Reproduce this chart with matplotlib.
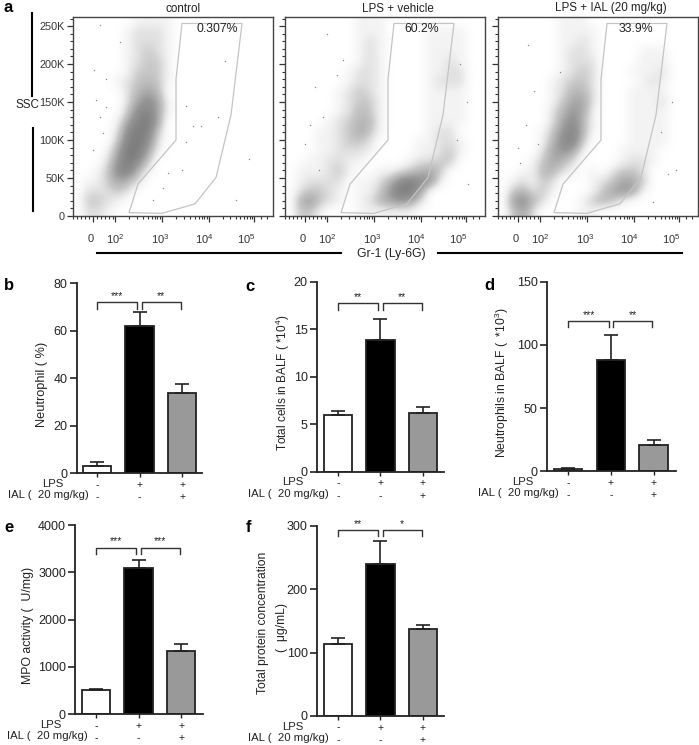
import numpy as np
import matplotlib
matplotlib.use('Agg')
import matplotlib.pyplot as plt
from matplotlib.colors import LinearSegmentedColormap
from matplotlib.patches import Polygon

W, H = 699, 745
plt.rcParams['font.family'] = ['Liberation Sans', 'DejaVu Sans']
plt.rcParams['mathtext.fontset'] = 'custom'
plt.rcParams['mathtext.rm'] = 'Liberation Sans'
plt.rcParams['mathtext.default'] = 'rm'

# flow plots: density, 20 x 20 cells, 0 = empty, 9 = densest
control_density = [
    "00000011110000000000",
    "00000122210000000000",
    "00000122210000000000",
    "00000123210000000000",
    "00000123310000000000",
    "00000133310000000000",
    "00001234310000000000",
    "00000245400000000000",
    "00000257510000000000",
    "00000378510000000000",
    "00001589500000000000",
    "00002798300000000000",
    "00003897200000000000",
    "00015995100000000000",
    "00026973000000000000",
    "00137841000000000000",
    "01135420000000000000",
    "02223200000000000000",
    "03321000000000000000",
    "02210000000000000000",
]
vehicle_density = [
    "00000001110000000000",
    "00000001110000111100",
    "00000001210000111100",
    "00000001210000111100",
    "00000001210000112100",
    "00000012210000112200",
    "00000012210000122200",
    "00000123210000111100",
    "00000123310000111100",
    "00000124310000111100",
    "00001234410000111100",
    "00011235310000122000",
    "00011233200001122100",
    "00011222100001123100",
    "00112211000012233000",
    "01112310011234530000",
    "01222201124787610000",
    "02332101136995000000",
    "04632101245652000000",
    "03310001111110000000",
]
ial_density = [
    "00000011100000000000",
    "00000011110000000000",
    "00000011210000000000",
    "00000012210000111000",
    "00000012220000111000",
    "00000012320001112000",
    "00000123320000121000",
    "00000124420001111000",
    "00000135520001112000",
    "00000246510001111000",
    "00000257410001111000",
    "00001368410001111000",
    "00001478300001111000",
    "00002565100011110000",
    "00013542000012210000",
    "00114421010233200000",
    "01213200012355300000",
    "03423100013565100000",
    "05742000134310000000",
    "03520000110000000000",
]
# stray events outside the clouds (channel, SSC in K)
control_stray_x = [27, 21, 47, 33, 152, 113, 120, 176, 163, 109, 95, 80, 90, 113, 128, 145, 23, 27, 30, 20, 33]
control_stray_y = [252, 192, 229, 180, 204, 145, 118, 75, 21, 61, 57, 21, 37, 98, 118, 131, 153, 131, 109, 87, 144]
vehicle_stray_x = [42, 30, 58, 25, 182, 183, 172, 38, 20, 34, 52, 175]
vehicle_stray_y = [240, 170, 205, 120, 150, 42, 100, 130, 95, 60, 185, 200]
ial_stray_x = [30, 36, 62, 28, 20, 174, 178, 155, 170, 163, 40, 22]
ial_stray_y = [225, 165, 190, 120, 90, 150, 60, 18, 55, 110, 95, 70]

flow_titles = ['control', 'LPS + vehicle', 'LPS + IAL (20 mg/kg)']
flow_percent = ['0.307%', '60.2%', '33.9%']
gate_x = [109, 169, 158, 143, 122, 89, 56, 65, 103, 103]
gate_y = [253.5, 253.5, 133, 50.6, 16, 3.5, 4.4, 42, 100, 180]
ssc_ticks = [0, 50, 100, 150, 200, 250]
ssc_labels = ['0', '50K', '100K', '150K', '200K', '250K']
gr1_ticks = [20, 42, 89, 136, 181]
gr1_label_pos = [17.5, 42, 87, 131, 173]
gr1_labels = ['0', '10$^{2}$', '10$^{3}$', '10$^{4}$', '10$^{5}$']

# bar panels
neutrophil_pct = [3, 62, 34]
neutrophil_pct_top = [4.7, 68, 37.7]
total_cells = [6, 13.9, 6.2]
total_cells_top = [6.4, 16.1, 6.8]
neutrophil_count = [2, 88, 21]
neutrophil_count_top = [3, 108, 24.5]
mpo = [510, 3100, 1340]
mpo_top = [540, 3270, 1490]
protein = [114, 240, 138]
protein_top = [123, 277, 143]
lps_signs = ['-', '+', '+']
ial_signs = ['-', '-', '+']

fig = plt.figure(figsize=(W / 100, H / 100), dpi=100)


def px_axes(x0, x1, ytop, ybottom):
    return fig.add_axes([x0 / W, 1 - ybottom / H, (x1 - x0) / W, (ybottom - ytop) / H])


def px_text(x, y, s, **kw):
    kw.setdefault('ha', 'center')
    kw.setdefault('va', 'center')
    kw.setdefault('fontsize', 8.2)
    kw.setdefault('color', '#222222')
    fig.text(x / W, 1 - y / H, s, **kw)


cloud = LinearSegmentedColormap.from_list('cloud', [(0, '#ffffff'), (1 / 9, '#f3f3f3'), (2 / 9, '#e0e0e0'),
                                                    (3 / 9, '#c8c8c8'), (6 / 9, '#969696'), (1, '#7b7b7b')])
frames = [73, 285, 498]
densities = [control_density, vehicle_density, ial_density]
strays = [(control_stray_x, control_stray_y), (vehicle_stray_x, vehicle_stray_y), (ial_stray_x, ial_stray_y)]

# minor ticks on the Gr-1 axis, log spaced inside each decade
gr1_minor = list(range(0, 42, 4))
for a, b in zip(gr1_ticks[1:-1], gr1_ticks[2:]):
    gr1_minor += list(a + (b - a) * np.log10(np.arange(2, 10)))
gr1_minor += [188, 194]

for i, x0 in enumerate(frames):
    ax = px_axes(x0, x0 + 200, 17, 216)
    grid = np.array([[int(c) for c in row] for row in densities[i]])
    ax.imshow(grid, extent=(0, 200, 0, 262), origin='upper', aspect='auto', cmap=cloud,
              vmin=0, vmax=9, interpolation='bicubic')
    ax.scatter(strays[i][0], strays[i][1], s=1, color='#888888', linewidths=0)
    ax.add_patch(Polygon(np.column_stack([gate_x, gate_y]), closed=True, fill=False,
                         edgecolor='#c4c4c4', linewidth=0.9))
    ax.set_xlim(0, 200)
    ax.set_ylim(0, 262)
    ax.set_xticks(gr1_ticks)
    ax.set_xticklabels([])
    ax.set_xticks(gr1_minor, minor=True)
    ax.set_yticks(ssc_ticks)
    ax.set_yticks(np.arange(0, 261, 10), minor=True)
    ax.set_yticklabels(ssc_labels if i == 0 else [], fontsize=7.8, color='#333333')
    ax.tick_params(which='major', length=4, width=0.9, color='#333333', pad=2)
    ax.tick_params(which='minor', length=2, width=0.8, color='#333333')
    for s in ax.spines.values():
        s.set_linewidth(1)
        s.set_color('#444444')
    for pos, lab in zip(gr1_label_pos, gr1_labels):
        ax.annotate(lab, xy=(pos, 0), xycoords=ax.get_xaxis_transform(), xytext=(0, -23 * 0.72),
                    textcoords='offset points', ha='center', va='center', fontsize=8, color='#333333')
    px_text(x0 + 110 if i == 0 else x0 + 112.7, 8.5, flow_titles[i], fontsize=8.4)
    px_text(x0 + [144, 136.7, 137.7][i], 29.5, flow_percent[i], fontsize=8.8)

px_text(8, 8, 'a', fontsize=12, fontweight='bold', color='black')
px_text(27.5, 105, 'SSC', fontsize=8.5)
px_text(391.7, 254, 'Gr-1 (Ly-6G)', fontsize=8.8)
fig.add_artist(plt.Line2D([31.7 / W, 31.7 / W], [1 - 13.3 / H, 1 - 95.7 / H], color='black', lw=1.5))
fig.add_artist(plt.Line2D([33.3 / W, 33.3 / W], [1 - 128 / H, 1 - 210.7 / H], color='black', lw=1.5))
fig.add_artist(plt.Line2D([96.7 / W, 341 / W], [1 - 253.3 / H, 1 - 253.3 / H], color='black', lw=1.5))
fig.add_artist(plt.Line2D([438 / W, 682 / W], [1 - 253.3 / H, 1 - 253.3 / H], color='black', lw=1.5))


def bar_panel(letter, letter_xy, axis_x, right_x, ytop, ybottom, first_center, values, tops, ymax, yticks, sig,
              bracket_y):
    step = 42.6
    ax = px_axes(axis_x, right_x, ytop, ybottom)
    xs = [0, 1, 2]
    errs = [t - v for t, v in zip(tops, values)]
    ax.bar(xs, values, width=0.665, color=['white', 'black', '#999999'], edgecolor='#222222', linewidth=1.3,
           yerr=[[0, 0, 0], errs], ecolor='#222222', capsize=5.2, error_kw={'elinewidth': 1.2, 'capthick': 1.2})
    ax.set_xlim((axis_x - first_center) / step, (right_x - first_center) / step)
    ax.set_ylim(0, ymax)
    ax.set_yticks(yticks)
    ax.set_xticks(xs)
    ax.set_xticklabels([])
    ax.tick_params(axis='y', length=5, width=1.2, color='#222222', labelsize=9, labelcolor='#222222', pad=1.5)
    ax.tick_params(axis='x', length=3, width=1, color='#222222')
    ax.spines['top'].set_visible(False)
    ax.spines['right'].set_visible(False)
    ax.spines['left'].set_linewidth(1.3)
    ax.spines['bottom'].set_linewidth(1.3)
    ax.spines['left'].set_color('#222222')
    ax.spines['bottom'].set_color('#222222')
    drop = 6.3 / (ybottom - ytop) * ymax
    for (a, b), star in zip([(0, 0.95), (1.05, 1.97)], sig):
        ax.plot([a, a, b, b], [bracket_y - drop, bracket_y, bracket_y, bracket_y - drop], color='#333333',
                lw=1, clip_on=False)
        ax.text((a + b) / 2, bracket_y + 0.2 * drop, star, ha='center', va='bottom', fontsize=7.5, color='#222222',
                clip_on=False)
    for x, a, b in zip(xs, lps_signs, ial_signs):
        cx = first_center + step * x
        px_text(cx, ybottom + 11.5, a, fontsize=7.5)
        px_text(cx, ybottom + 24, b, fontsize=7.5)
    px_text(axis_x - 13.5, ybottom + 10.5, 'LPS', ha='right')
    px_text(axis_x + 12.5, ybottom + 22, 'IAL (  20 mg/kg)', ha='right')
    px_text(letter_xy[0], letter_xy[1], letter, fontsize=12, fontweight='bold', color='black')


bar_panel('b', (9, 286), 76.7, 201.7, 283.3, 473.3, 97, neutrophil_pct, neutrophil_pct_top, 80,
          [0, 20, 40, 60, 80], ['***', '**'], 72)
bar_panel('c', (250, 287), 316.7, 444.3, 282, 471.7, 337.8, total_cells, total_cells_top, 20,
          [0, 5, 10, 15, 20], ['**', '**'], 17.75)
bar_panel('d', (489, 286), 546.7, 675.7, 281.7, 471.3, 568.3, neutrophil_count, neutrophil_count_top, 150,
          [0, 50, 100, 150], ['***', '**'], 118.9)
bar_panel('e', (9, 528), 75, 202.7, 525, 714.3, 96, mpo, mpo_top, 4000,
          [0, 1000, 2000, 3000, 4000], ['***', '***'], 3520)
bar_panel('f', (248, 528), 316.7, 444.3, 526, 716, 337.8, protein, protein_top, 300,
          [0, 100, 200, 300], ['**', '*'], 293.7)

px_text(41.7, 384, 'Neutrophil ( %)', rotation=90, fontsize=9.2)
px_text(282.7, 382.5, 'Total cells in BALF ( *10$^{4}$)', rotation=90, fontsize=8.5)
px_text(501.7, 383, 'Neutrophils in BALF (  *10$^{3}$)', rotation=90, fontsize=8.7)
px_text(28, 625, 'MPO activity (  U/mg)', rotation=90, fontsize=8.8)
px_text(262.7, 623, 'Total protein concentration', rotation=90, fontsize=8.7)
px_text(281.7, 627, '(  μg/mL)', rotation=90, fontsize=8.7)

fig.savefig('out.png', dpi=100)
